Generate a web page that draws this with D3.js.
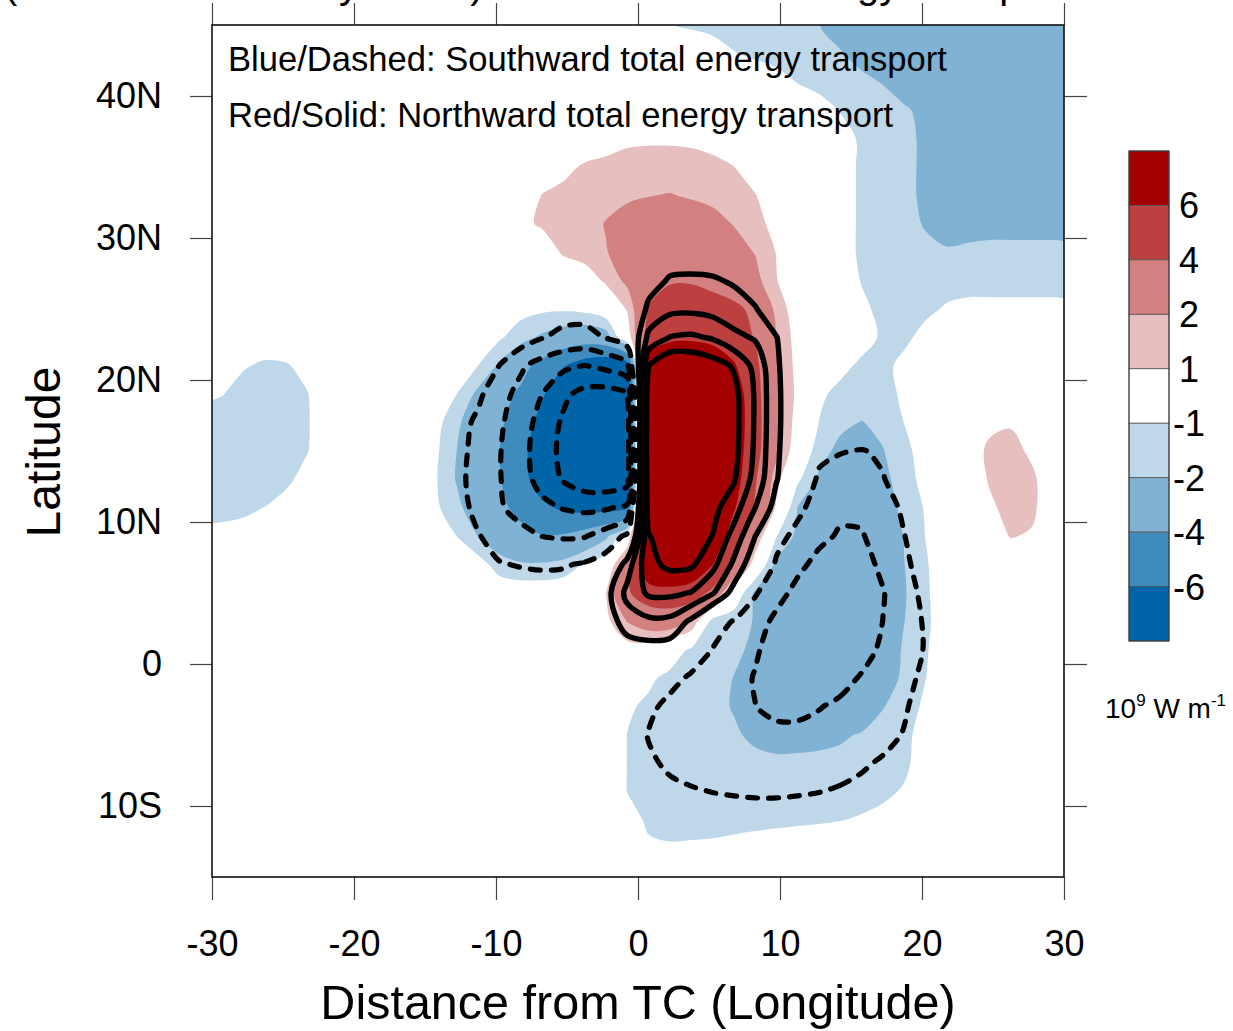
<!DOCTYPE html>
<html>
<head>
<meta charset="utf-8">
<script src="https://cdn.jsdelivr.net/npm/d3@7"></script>
<style>
  body { margin: 0; background: #fff; }
  svg { display: block; }
  text { font-family: "Liberation Sans", Arial, Helvetica, sans-serif; }
</style>
</head>
<body>
<svg id="chart" width="1233" height="1031"></svg>
<script>
// shaded field, one row per latitude (45N .. 15S, every 2 deg), columns every 1.5 deg from -30.75
const fillX0 = -30.75, fillDx = 1.5, fillY0 = 45, fillDy = -2;
const fillRows = [
  [0,0,0,0,0,0,0,0,0,0, 0,0,0,0,0,0,0,0,0,0, 0,0,-0.95,-1.15,-1.3,-1.45,-1.55,-1.7,-1.85,-1.98, -2.3,-2.6,-2.8,-2.9,-3,-3,-3,-3,-3,-3, -3,-3],
  [0,0,0,0,0,0,0,0,0,0, 0,0,0,0,0,0,0,0,0,0, 0,0,0,-0.2,-0.5,-0.95,-1.2,-1.4,-1.6,-1.8, -1.95,-2.3,-2.6,-2.9,-3,-3,-3,-3,-3,-3, -3,-3],
  [0,0,0,0,0,0,0,0,0,0, 0,0,0,0,0,0,0,0,0,0, 0,0,0,0,0,-0.1,-0.3,-0.6,-1.05,-1.3, -1.55,-1.8,-2.05,-2.4,-2.7,-2.9,-3,-3,-3,-3, -3,-3],
  [0,0,0,0,0,0,0,0,0,0, 0,0,0,0,0,0,0,0,0,0, 0.2,0.25,0.25,0.2,0,0,0,0,-0.3,-0.6, -1.05,-1.3,-1.6,-1.9,-2.2,-2.5,-2.8,-3,-3,-3, -3,-3],
  [0,0,0,0,0,0,0,0,0,0, 0,0,0,0,0,0,0,0,0.2,0.5, 0.8,0.85,0.85,0.8,0.6,0.3,0,0,0,-0.2, -0.6,-1.15,-1.45,-1.8,-2.15,-2.45,-2.7,-2.9,-2.9,-2.9, -2.9,-2.9],
  [0,0,0,0,0,0,0,0,0,0, 0,0,0,0,0,0,0.2,0.7,1.15,1.3, 1.4,1.45,1.45,1.4,1.3,1.02,0.4,0,0,-0.2, -0.6,-1.15,-1.45,-1.8,-2.15,-2.4,-2.6,-2.8,-2.8,-2.8, -2.8,-2.8],
  [0,0,0,0,0,0,0,0,0,0, 0,0,0,0,0,0,1.05,1.3,1.5,1.7, 1.85,1.97,2.05,1.9,1.75,1.5,1.05,0.3,0,-0.2, -0.6,-1.15,-1.45,-1.8,-2.15,-2.35,-2.5,-2.6,-2.6,-2.6, -2.6,-2.6],
  [0,0,0,0,0,0,0,0,0,0, 0,0,0,0,0,0.75,1.15,1.4,1.65,2.05, 2.4,2.6,2.65,2.6,2.35,1.95,1.4,0.6,0,-0.2, -0.6,-1.15,-1.45,-1.8,-2.05,-2.2,-2.2,-2.2,-2.2,-2.2, -2.2,-2.2],
  [0,0,0,0,0,0,0,0,0,0, 0,0,0,0,0,0,0.3,1.15,1.5,1.95, 2.5,3,3.3,3.3,3,2.5,1.95,0.95,0.2,0, -0.6,-1.15,-1.45,-1.7,-1.85,-1.95,-1.9,-1.85,-1.85,-1.85, -1.85,-1.85],
  [0,0,0,0,0,0,0,0,0,0, 0,0,0,0,0,0,0,0,0.3,1.2, 2.3,3.4,3.9,3.9,3.6,3,2.4,1.05,0.2,0, -0.4,-1.05,-1.35,-1.45,-1.4,-1.35,-1.35,-1.35,-1.35,-1.35, -1.35,-1.35],
  [0,0,0,0,0,0,0,0,0,0, 0,0,0,0,-0.3,-0.6,-0.8,-0.85,-0.7,-0.2, 1.1,4.1,4.6,4.7,4.6,4.4,3.6,1.7,0.3,0, -0.2,-0.8,-1.25,-1.35,-1.2,-0.9,-0.75,-0.75,-0.75,-0.75, -0.75,-0.75],
  [0,0,0,-0.6,-0.6,-0.2,0,0,0,0, 0,0,0,0,-0.85,-1.6,-2.2,-2.7,-3,-2.6, 0.2,4.9,5.4,5.5,5.3,4.9,3.9,2.05,0.5,0, 0,-0.6,-1.15,-1.2,-0.7,-0.4,-0.3,-0.3,-0.3,-0.3, -0.3,-0.3],
  [-0.7,-0.8,-0.95,-1.1,-1.05,-0.8,-0.3,0,0,0, 0,0,0,-1.02,-2.2,-3.4,-4.6,-5.9,-7,-7.5, -7,7,9,9.2,7.8,6.2,4.4,2.3,0.6,0, -0.7,-1.2,-1.25,-0.75,-0.3,-0.1,0,0,0,0, 0,0],
  [-0.85,-0.98,-1.25,-1.4,-1.35,-1.02,-0.5,-0.2,0,0, 0,0,-1.02,-2.3,-3.4,-4.3,-5.8,-7.4,-8.6,-9, -8,9,10.5,10.5,9.3,7.2,4.6,2.4,0.7,-0.8, -1.3,-1.4,-1.3,-0.85,-0.3,0,0,0,0,0, 0,0],
  [-1.2,-1.35,-1.5,-1.55,-1.45,-1.05,-0.5,-0.15,0,0, 0,-0.6,-1.8,-2.8,-3.7,-5,-6.6,-8,-9.2,-9.5, -8.5,9.5,11,11,9.8,7.4,4.7,2.4,0.5,-1.02, -1.75,-2.05,-1.7,-0.98,-0.4,-0.1,0.1,0.7,0.9,0.3, 0,0],
  [-1.3,-1.45,-1.6,-1.6,-1.45,-1.02,-0.5,-0.15,0,0, 0,-0.8,-2.02,-3,-4.02,-5.4,-7.2,-8.6,-9.6,-9.8, -8.7,9.8,11.2,11,9.7,7.2,4.6,2.3,0.2,-1.6, -2.3,-2.5,-2.05,-1.3,-0.5,-0.1,0.3,1.25,1.35,0.8, 0.2,0],
  [-1.3,-1.4,-1.5,-1.45,-1.15,-0.7,-0.3,0,0,0, 0,-0.9,-2.1,-3,-3.9,-5.3,-7,-8.4,-9.4,-9.6, -8.5,9.6,11,10.8,9.4,6.9,4.2,1.4,-0.8,-2.2, -2.6,-2.8,-2.3,-1.5,-0.6,-0.1,0.2,1.1,1.5,1.2, 0.3,0],
  [-1.15,-1.2,-1.15,-0.98,-0.7,-0.4,0,0,0,0, 0,-0.8,-1.7,-2.8,-3.6,-4.5,-5.6,-6.3,-6.6,-6.6, -6.2,9.2,10.5,10.2,8.6,6.2,3.8,0.8,-2.05,-2.5, -2.9,-3,-2.6,-1.7,-0.9,-0.3,0,0.8,1.35,1.2, 0.3,0],
  [-0.85,-0.8,-0.7,-0.5,-0.3,0,0,0,0,0, 0,0,-1.02,-2.02,-2.9,-3.5,-3.9,-3.8,-3.2,-2.2, -0.2,8.5,9.6,9.2,7.6,5,2.02,-0.95,-2.3,-2.8, -3.1,-3.2,-2.9,-1.95,-0.98,-0.3,0,0.5,1.05,0.9, 0.2,0],
  [0,0,0,0,0,0,0,0,0,0, 0,0,0,-0.5,-1.5,-1.85,-1.85,-1.6,-0.9,-0.3, 3,8,8.5,7.8,6.05,3.7,0.3,-2.3,-2.9,-3.2, -3.4,-3.4,-3,-2.02,-1.1,-0.4,0,0,0.3,0.2, 0,0],
  [0,0,0,0,0,0,0,0,0,0, 0,0,0,0,-0.25,-0.3,-0.3,-0.25,-0.2,1.02, 3.8,5,5.3,5,3.6,0,-2.2,-2.9,-3.3,-3.5, -3.6,-3.6,-3.2,-2.1,-1.15,-0.4,0,0,0,0, 0,0],
  [0,0,0,0,0,0,0,0,0,0, 0,0,0,0,0,0,0,0,-0.1,0.7, 2.05,2.8,2.9,2.05,-1.5,-1.7,-2.05,-2.6,-3,-3.4, -3.6,-3.6,-3.3,-2.02,-1.2,-0.4,0,0,0,0, 0,0],
  [0,0,0,0,0,0,0,0,0,0, 0,0,0,0,0,0,0,0,0,0.1, 0.5,0.4,-0.3,-1.2,-1.6,-1.85,-2.15,-2.6,-3.1,-3.4, -3.6,-3.5,-3.1,-1.8,-1.1,-0.4,0,0,0,0, 0,0],
  [0,0,0,0,0,0,0,0,0,0, 0,0,0,0,0,0,0,0,0,0, 0,-0.8,-1.3,-1.5,-1.7,-2.02,-2.4,-2.8,-3.2,-3.4, -3.5,-3.4,-2.8,-1.7,-1.02,-0.35,0,0,0,0, 0,0],
  [0,0,0,0,0,0,0,0,0,0, 0,0,0,0,0,0,0,0,0,0, -0.85,-1.2,-1.4,-1.55,-1.8,-2.05,-2.4,-2.7,-3,-3.1, -3.1,-2.9,-2.05,-1.5,-0.8,-0.2,0,0,0,0, 0,0],
  [0,0,0,0,0,0,0,0,0,0, 0,0,0,0,0,0,0,0,0,-0.2, -1.02,-1.3,-1.45,-1.55,-1.7,-1.9,-2.15,-2.3,-2.35,-2.3, -2.15,-1.9,-1.6,-1.25,-0.6,0,0,0,0,0, 0,0],
  [0,0,0,0,0,0,0,0,0,0, 0,0,0,0,0,0,0,0,0,-0.2, -1.02,-1.3,-1.45,-1.55,-1.65,-1.75,-1.8,-1.85,-1.8,-1.75, -1.7,-1.6,-1.45,-1.2,-0.5,0,0,0,0,0, 0,0],
  [0,0,0,0,0,0,0,0,0,0, 0,0,0,0,0,0,0,0,0,-0.2, -1.02,-1.3,-1.4,-1.5,-1.55,-1.6,-1.6,-1.6,-1.55,-1.5, -1.45,-1.35,-1.2,-0.9,-0.3,0,0,0,0,0, 0,0],
  [0,0,0,0,0,0,0,0,0,0, 0,0,0,0,0,0,0,0,0,0, -0.6,-1.15,-1.3,-1.35,-1.35,-1.3,-1.25,-1.2,-1.15,-1.1, -1.02,-0.9,-0.7,-0.4,-0.1,0,0,0,0,0, 0,0],
  [0,0,0,0,0,0,0,0,0,0, 0,0,0,0,0,0,0,0,0,0, -0.3,-0.85,-0.9,-0.85,-0.8,-0.7,-0.6,-0.5,-0.4,-0.35, -0.3,-0.2,-0.1,0,0,0,0,0,0,0, 0,0],
  [0,0,0,0,0,0,0,0,0,0, 0,0,0,0,0,0,0,0,0,0, 0,-0.3,-0.3,-0.3,-0.3,-0.2,-0.2,-0.1,0,0, 0,0,0,0,0,0,0,0,0,0, 0,0]
];

// contoured (line) field, 29N .. 13S every 2 deg, columns every 1.5 deg from -15.75
const lineX0 = -15.75, lineDx = 1.5, lineY0 = 29, lineDy = -2;
const lineRows = [
  [0,0,0,0,0,0,0,0,0,0, 0,0.6,1,1,0.9,0.7,0.4,0,0,0, 0,0,0,0,0,0],
  [0,0,0,0,0,0,0,0,0,0, 0,1.2,2.2,2.3,2.2,1.8,1.2,0.5,0,0, 0,0,0,0,0,0],
  [0,0,0,0,0,-0.5,-1,-1.2,-1.2,-0.9, -0.5,2.4,3.5,3.6,3.3,2.8,2.1,1,0,0, 0,0,0,0,0,0],
  [0,0,0,0,-0.4,-1,-1.9,-2.5,-2.6,-1.9, -0.8,4.5,6.05,6.3,5.8,4.5,3.8,2.05,0.5,0, 0,0,0,0,0,0],
  [0,0,0,0,-2.05,-3.7,-4.8,-5.6,-6.05,-5.5, -4.5,8.02,9.8,9.6,8.9,7.8,5.4,2.3,0.3,0, 0,0,0,0,0,0],
  [0,0,0,-1.6,-3.3,-4.6,-6.02,-7.6,-8.6,-8.8, -8.2,9.5,10.5,10.3,9.6,8.6,5.8,2.4,0.4,0, 0,0,0,0,0,0],
  [0,0,-1.2,-2.4,-3.7,-5.1,-6.7,-8.3,-9.3,-9.6, -9,9.8,10.8,10.6,9.8,8.7,5.8,2.4,0.4,0, 0,0,0,0,0,0],
  [0,0,-1.4,-2.6,-3.9,-5.3,-7,-8.5,-9.5,-9.8, -9.2,9.9,10.9,10.6,9.8,8.6,5.7,2.3,0.3,-1.4, -1.9,-2.1,-1.7,-1,-0.3,0],
  [0,0,-1.5,-2.7,-3.9,-5.2,-6.7,-8.2,-9.2,-9.4, -8.8,9.6,10.6,10.2,9.4,8.2,5.3,2.1,0.2,-2.4, -2.8,-2.9,-2.1,-1.1,-0.4,0],
  [0,0,-1.3,-2.5,-3.8,-4.6,-5.5,-6.1,-6.4,-6.2, -5.6,9,10,9.6,8.6,6.9,4.02,1.2,-1.5,-2.9, -3.6,-3.7,-3,-1.6,-0.5,0],
  [0,0,-0.6,-1.9,-2.7,-3.5,-4.02,-4.2,-4.1,-3.2, -1.6,7.9,9,9.2,7.95,5.3,2.02,-1.3,-2.6,-3.6, -4.2,-4.1,-3.4,-2.05,-0.8,0],
  [0,0,0,-0.8,-1.9,-2.1,-2.2,-2.15,-1.8,-1.1, 3,7.5,8.4,8.3,6.6,3.6,0.4,-2.3,-3.6,-4.5, -4.9,-4.7,-3.6,-2.4,-1.1,-0.2],
  [0,0,0,0,-0.8,-1.1,-1.2,-1.1,-0.8,1.2, 4.6,6.3,6.4,5.9,4.2,1.2,-1.8,-3.4,-4.5,-5, -5.2,-5,-4.1,-2.8,-1.5,-0.4],
  [0,0,0,0,0,-0.3,-0.3,-0.3,0,0.8, 3,3.6,3.5,1.6,-1.2,-2.1,-3.2,-4.4,-5.2,-5.5, -5.5,-5.2,-3.98,-2.9,-1.8,-0.6],
  [0,0,0,0,0,0,0,0,0,0.3, 1,1.2,1,-0.8,-2.05,-2.9,-3.8,-4.7,-5.3,-5.5, -5.4,-4.8,-3.6,-2.7,-1.9,-0.7],
  [0,0,0,0,0,0,0,0,0,0, 0,-0.5,-1.4,-2.3,-2.9,-3.4,-4.1,-4.6,-4.9,-5, -4.7,-3.8,-3.1,-2.5,-1.6,-0.5],
  [0,0,0,0,0,0,0,0,0,0, -0.4,-1.6,-2.5,-3,-3.4,-3.7,-3.98,-4.4,-4.5,-4.1, -3.6,-3.1,-2.7,-2.2,-1.2,-0.3],
  [0,0,0,0,0,0,0,0,0,0, -0.6,-2.1,-2.6,-2.9,-3.1,-3.3,-3.5,-3.6,-3.5,-3.3, -3,-2.8,-2.5,-1.9,-0.9,-0.2],
  [0,0,0,0,0,0,0,0,0,0, -0.4,-1.7,-2.3,-2.6,-2.7,-2.8,-2.85,-2.85,-2.8,-2.7, -2.5,-2.2,-1.8,-1.2,-0.5,0],
  [0,0,0,0,0,0,0,0,0,0, 0,-1.2,-1.6,-1.85,-2.02,-2.1,-2.15,-2.15,-2.1,-2.02, -1.85,-1.6,-1.3,-0.8,-0.3,0],
  [0,0,0,0,0,0,0,0,0,0, 0,-0.8,-1,-1.2,-1.3,-1.4,-1.45,-1.45,-1.4,-1.3, -1.2,-1,-0.8,-0.5,-0.2,0],
  [0,0,0,0,0,0,0,0,0,0, 0,-0.4,-0.5,-0.5,-0.5,-0.5,-0.5,-0.5,-0.5,-0.5, -0.4,-0.3,-0.2,0,0,0]
];

const fillLevels = [1, 2, 4, 6];
const lineLevels = [2, 4, 6, 8];
const redColors = ["#e8bfbf", "#d28080", "#bc4040", "#a50000"];
const blueColors = ["#bfd8e9", "#80b2d4", "#408bbe", "#0064a8"];
const barLabels = fillLevels.slice().reverse().map(String).concat(fillLevels.map(v => String(-v)));
const xTicks = [-30, -20, -10, 0, 10, 20, 30];
const yTicks = [-10, 0, 10, 20, 30, 40];

const svg = d3.select("#chart");
const x = d3.scaleLinear().domain([-30, 30]).range([212, 1064]);
const y = d3.scaleLinear().domain([-15, 45]).range([877, 25]);

svg.append("defs").append("clipPath").attr("id", "plotClip")
  .append("rect").attr("x", 212).attr("y", 25).attr("width", 852).attr("height", 852);
const plot = svg.append("g").attr("clip-path", "url(#plotClip)");

// contour a grid and turn each threshold into one smoothed path string
function contourPaths(rows, x0, dx, y0, dy, levels, sign) {
  const nx = rows[0].length, ny = rows.length;
  const values = [].concat(...rows).map(v => v * sign);
  const ring = d3.line()
    .x(p => x(x0 + (p[0] - 0.5) * dx))
    .y(p => y(y0 + (p[1] - 0.5) * dy))
    .curve(d3.curveCatmullRomClosed.alpha(0.5));
  return d3.contours().size([nx, ny]).thresholds(levels)(values).map(c =>
    c.coordinates.map(poly => poly.map(r => ring(r.slice(0, -1))).join("")).join(""));
}

contourPaths(fillRows, fillX0, fillDx, fillY0, fillDy, fillLevels, 1).forEach((d, k) => {
  plot.append("path").attr("d", d).attr("fill", redColors[k]).attr("fill-rule", "evenodd");
});
contourPaths(fillRows, fillX0, fillDx, fillY0, fillDy, fillLevels, -1).forEach((d, k) => {
  plot.append("path").attr("d", d).attr("fill", blueColors[k]).attr("fill-rule", "evenodd");
});

contourPaths(lineRows, lineX0, lineDx, lineY0, lineDy, lineLevels, 1).forEach(d => {
  plot.append("path").attr("d", d).attr("fill", "none")
    .attr("stroke", "#000").attr("stroke-width", 5.4).attr("stroke-linejoin", "round");
});
contourPaths(lineRows, lineX0, lineDx, lineY0, lineDy, lineLevels, -1).forEach(d => {
  plot.append("path").attr("d", d).attr("fill", "none")
    .attr("stroke", "#000").attr("stroke-width", 5.2)
    .attr("stroke-linecap", "round").attr("stroke-dasharray", "10 11");
});

// legend text inside the plot
plot.append("text").attr("x", 228).attr("y", 71).attr("font-size", 34.6)
  .text("Blue/Dashed: Southward total energy transport");
plot.append("text").attr("x", 228).attr("y", 127).attr("font-size", 34.6)
  .text("Red/Solid: Northward total energy transport");

// title, cut off at the top of the page
svg.append("text").attr("x", 4).attr("y", -2).attr("font-size", 40)
  .text("(Intense TCs at Day 0 to 3) Meridional total energy transport");

// axes
function styleAxis(g) {
  g.select(".domain").remove();
  g.selectAll(".tick line").attr("stroke", "#444").attr("stroke-width", 1.2);
  g.selectAll(".tick text").attr("fill", "#000").attr("font-size", 36)
    .attr("font-family", '"Liberation Sans", Arial, Helvetica, sans-serif');
}
svg.append("g").attr("transform", "translate(0,877)")
  .call(d3.axisBottom(x).tickValues(xTicks).tickSize(23).tickPadding(30).tickFormat(d => String(d)))
  .call(styleAxis);
svg.append("g").attr("transform", "translate(0,25)")
  .call(d3.axisTop(x).tickValues(xTicks).tickSize(22).tickFormat(""))
  .call(styleAxis);
svg.append("g").attr("transform", "translate(212,0)")
  .call(d3.axisLeft(y).tickValues(yTicks).tickSize(22).tickPadding(28)
    .tickFormat(d => d === 0 ? "0" : d > 0 ? d + "N" : (-d) + "S"))
  .call(styleAxis);
svg.append("g").attr("transform", "translate(1064,0)")
  .call(d3.axisRight(y).tickValues(yTicks).tickSize(23).tickFormat(""))
  .call(styleAxis);

svg.append("rect").attr("x", 212).attr("y", 25).attr("width", 852).attr("height", 852)
  .attr("fill", "none").attr("stroke", "#111").attr("stroke-width", 1.6);

svg.append("text").attr("transform", "translate(60,452) rotate(-90)")
  .attr("text-anchor", "middle").attr("font-size", 48).text("Latitude");
svg.append("text").attr("x", 638).attr("y", 1019)
  .attr("text-anchor", "middle").attr("font-size", 48.5).text("Distance from TC (Longitude)");

// colour bar
const barColors = redColors.slice().reverse().concat(["#ffffff"], blueColors);
const barY = d3.scaleLinear().domain([0, barColors.length]).range([151, 641]);
const bar = svg.append("g");
bar.selectAll("rect").data(barColors).join("rect")
  .attr("x", 1129).attr("width", 40)
  .attr("y", (c, i) => barY(i)).attr("height", (c, i) => barY(i + 1) - barY(i))
  .attr("fill", c => c).attr("stroke", "#555").attr("stroke-width", 0.8);
bar.append("rect").attr("x", 1129).attr("y", 151).attr("width", 40).attr("height", 490)
  .attr("fill", "none").attr("stroke", "#333").attr("stroke-width", 1);
bar.selectAll("text").data(barLabels).join("text")
  .attr("x", 1189).attr("y", (t, i) => barY(i + 1)).attr("dy", "0.36em")
  .attr("text-anchor", "middle").attr("font-size", 36).text(t => t);

const unit = svg.append("text").attr("x", 1105).attr("y", 718).attr("font-size", 28);
unit.append("tspan").text("10");
unit.append("tspan").attr("font-size", 17).attr("dy", -12).text("9");
unit.append("tspan").attr("dy", 12).text(" W m");
unit.append("tspan").attr("font-size", 17).attr("dy", -12).text("-1");
</script>
</body>
</html>
